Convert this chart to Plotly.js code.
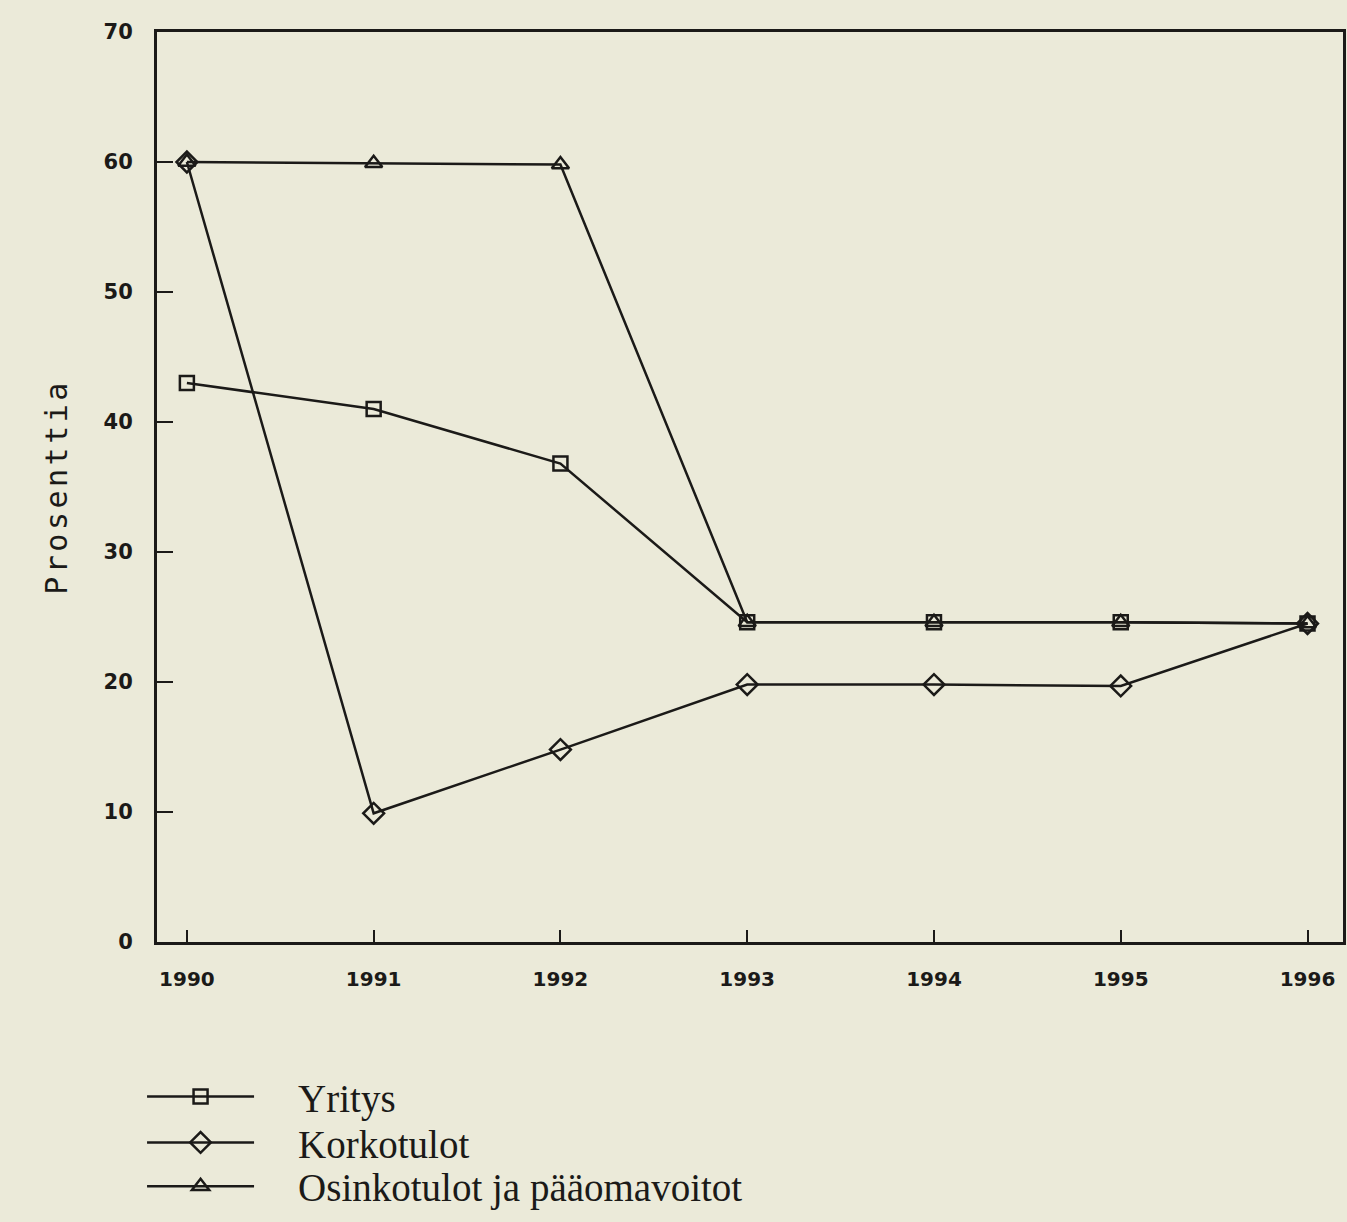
<!DOCTYPE html>
<html>
<head>
<meta charset="utf-8">
<script src="https://cdn.plot.ly/plotly-3.0.1.min.js"></script>
<style>
html,body{margin:0;padding:0;background:#ebead9;}
#chart{width:1347px;height:1222px;}
#chart .ytitle{letter-spacing:3.5px;}
</style>
</head>
<body>
<div id="chart"></div>
<script>
var years = [1990, 1991, 1992, 1993, 1994, 1995, 1996];
var yearLabels = ["1990", "1991", "1992", "1993", "1994", "1995", "1996"];
var yritys = [43.0, 41.0, 36.8, 24.6, 24.6, 24.6, 24.5];
var korkotulot = [60.0, 9.9, 14.8, 19.8, 19.8, 19.7, 24.5];
var osinkotulot = [60.0, 59.9, 59.8, 24.6, 24.6, 24.6, 24.5];
var seriesNames = ["Yritys", "Korkotulot", "Osinkotulot ja pääomavoitot"];
var yTicks = [0, 10, 20, 30, 40, 50, 60, 70];
var yTickLabels = ["0", "10", "20", "30", "40", "50", "60", "70"];

var ink = "#1b1a18";
var gap = "\u00a0\u00a0\u00a0\u00a0";
function tr(name, y, sym, sz, lg) {
  return {
    type: "scatter", mode: "lines+markers", name: gap + name, legend: lg,
    x: years, y: y,
    line: {color: ink, width: 2.5},
    marker: {symbol: sym, size: sz, color: ink, line: {color: ink, width: 2.5}},
    cliponaxis: false
  };
}
var data = [
  tr(seriesNames[0], yritys, "square-open", 14, "legend"),
  tr(seriesNames[1], korkotulot, "diamond-open", 16, "legend2"),
  tr(seriesNames[2], osinkotulot, "triangle-up-open", 15, "legend3")
];

function lg(yc, anchor) {
  return {
    x: -0.0126, xanchor: "left", y: yc, yanchor: anchor || "middle",
    font: {family: "Liberation Serif", size: 39, color: ink},
    itemwidth: 107, bgcolor: "rgba(0,0,0,0)", borderwidth: 0
  };
}
var layout = {
  width: 1347, height: 1222,
  paper_bgcolor: "#ebead9", plot_bgcolor: "#ebead9",
  margin: {l: 157, r: 4, t: 32, b: 278},
  showlegend: true,
  legend: lg(-(1099 - 944) / 912),
  legend2: lg(-(1145 - 944) / 912),
  legend3: lg(-(1221 - 944) / 912, "bottom"),
  xaxis: {
    range: [1989.84, 1996.19],
    tickvals: years, ticktext: yearLabels,
    ticks: "inside", ticklen: 12, tickwidth: 2, tickcolor: ink,
    showline: true, linecolor: ink, linewidth: 3, mirror: true,
    showgrid: false, zeroline: false,
    tickfont: {family: "DejaVu Sans", size: 20, weight: "bold", color: ink},
    ticklabelstandoff: 17
  },
  yaxis: {
    range: [0, 70],
    tickvals: yTicks, ticktext: yTickLabels,
    ticks: "inside", ticklen: 16, tickwidth: 2, tickcolor: ink,
    showline: true, linecolor: ink, linewidth: 3, mirror: true,
    showgrid: false, zeroline: false,
    tickfont: {family: "DejaVu Sans", size: 21, weight: "bold", color: ink},
    ticklabelstandoff: 17,
    title: {text: "Prosenttia", font: {family: "DejaVu Sans Mono", size: 30, color: ink}, standoff: 28}
  }
};
Plotly.newPlot("chart", data, layout, {displayModeBar: false, staticPlot: true});
</script>
</body>
</html>
